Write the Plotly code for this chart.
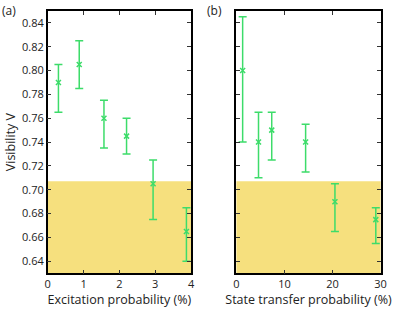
import plotly.graph_objects as go

# panel (a): excitation probability
excProb = [0.30, 0.88, 1.57, 2.20, 2.94, 3.87]
visA = [0.790, 0.805, 0.760, 0.745, 0.705, 0.665]
visA_hi = [0.805, 0.825, 0.775, 0.760, 0.725, 0.685]
visA_lo = [0.765, 0.785, 0.735, 0.730, 0.675, 0.640]

# panel (b): state transfer probability
stProb = [1.3, 4.6, 7.35, 14.4, 20.5, 29.0]
visB = [0.800, 0.740, 0.750, 0.740, 0.690, 0.675]
visB_hi = [0.845, 0.765, 0.765, 0.755, 0.705, 0.685]
visB_lo = [0.740, 0.710, 0.725, 0.715, 0.665, 0.655]

threshold = 0.7071
yTicks = [0.64, 0.66, 0.68, 0.70, 0.72, 0.74, 0.76, 0.78, 0.80, 0.82, 0.84]

GREEN = '#3ddc6a'
FONT = 'Open Sans'

fig = go.Figure()

def addSeries(x, y, hi, lo, xa, ya):
    fig.add_trace(go.Scatter(
        x=x, y=y, xaxis=xa, yaxis=ya, mode='markers',
        marker=dict(symbol='x-thin', size=5, line=dict(width=1.5, color=GREEN), color=GREEN),
        error_y=dict(type='data', symmetric=False,
                     array=[h - v for h, v in zip(hi, y)],
                     arrayminus=[v - l for v, l in zip(y, lo)],
                     color=GREEN, thickness=1.5, width=4),
        showlegend=False, hoverinfo='skip',
    ))

addSeries(excProb, visA, visA_hi, visA_lo, 'x', 'y')
addSeries(stProb, visB, visB_hi, visB_lo, 'x2', 'y2')

for xr, yr in [('x domain', 'y'), ('x2 domain', 'y2')]:
    fig.add_shape(type='rect', xref=xr, yref=yr, x0=0, x1=1, y0=0.63, y1=threshold,
                  fillcolor='#f6e07e', line=dict(width=0), layer='below')

axisStyle = dict(showline=True, linecolor='black', linewidth=1.5, mirror='ticks',
                 ticks='inside', ticklen=4, tickwidth=1.2, tickcolor='#333',
                 showgrid=False, zeroline=False, automargin=False,
                 tickfont=dict(size=11, color='#222', family=FONT))

fig.update_layout(
    width=394, height=320,
    margin=dict(l=0, r=0, t=0, b=0),
    plot_bgcolor='white', paper_bgcolor='white',
    font=dict(family=FONT, color='#222'),
    hovermode=False,
    xaxis=dict(domain=[0.121, 0.485], range=[0, 4], dtick=1, anchor='y',
               title=dict(text='Excitation probability (%)', font=dict(size=12.5), standoff=4),
               **axisStyle),
    yaxis=dict(domain=[0.146, 0.966], range=[0.63, 0.85], tickvals=yTicks,
               tickformat='.2f', anchor='x',
               title=dict(text='Visibility V', font=dict(size=12.5), standoff=4),
               **axisStyle),
    xaxis2=dict(domain=[0.600, 0.966], range=[0, 30], dtick=10, anchor='y2',
                title=dict(text='State transfer probability (%)', font=dict(size=12.5), standoff=4),
                **axisStyle),
    yaxis2=dict(domain=[0.146, 0.966], range=[0.63, 0.85], tickvals=yTicks,
                showticklabels=False, anchor='x2', **axisStyle),
    annotations=[
        dict(text='(a)', x=0.0, y=1.0, xref='paper', yref='paper', xanchor='left', yanchor='top',
             showarrow=False, font=dict(size=12, family=FONT)),
        dict(text='(b)', x=0.52, y=1.0, xref='paper', yref='paper', xanchor='left', yanchor='top',
             showarrow=False, font=dict(size=12, family=FONT)),
    ],
)

# page body has a default 8px margin; drop it so the figure sits at the window corner
fig.write_html('out.html', config=dict(displayModeBar=False),
               post_script="document.body.style.margin='0';")
